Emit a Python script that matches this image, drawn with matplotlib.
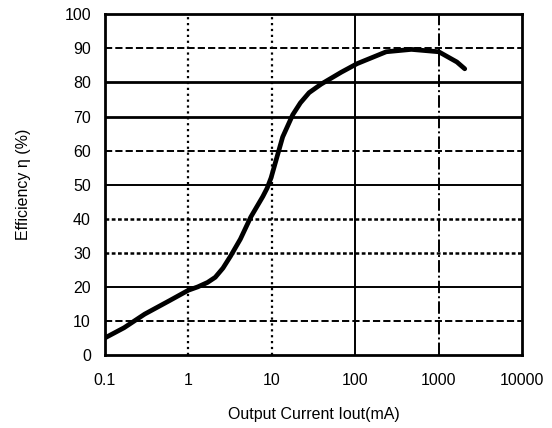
import numpy as np
import matplotlib.pyplot as plt

plt.rcParams["font.family"] = ["Liberation Sans", "DejaVu Sans"]

# efficiency curve
current_ma = [0.1, 0.17, 0.3, 0.6, 1.0, 1.3, 1.7, 2.1, 2.6, 3.2, 4.2, 5.6, 7.8, 8.8, 9.8,
              11.5, 13.5, 17.8, 22, 28, 39, 68, 105, 235, 470, 1000, 1650, 2050]
efficiency = [5, 8, 12, 16, 19, 20, 21.3, 22.8, 25.5, 29, 34, 40.5, 46.5, 49, 52,
              58, 64, 70.5, 74, 77, 79.5, 83, 85.5, 89, 89.7, 89, 86, 84]

xticks = [0.1, 1, 10, 100, 1000, 10000]
xtick_labels = ["0.1", "1", "10", "100", "1000", "10000"]
yticks = list(range(0, 101, 10))

# grid line styles as drawn in the original
hgrid = {10: ("--", 1.4), 20: ("-", 1.4), 30: ((0, (1.5, 1)), 1.8), 40: ((0, (1.5, 1)), 1.8),
         50: ("-", 1.4), 60: ("--", 1.4), 70: ("-", 2.0), 80: ("-", 2.0), 90: ("--", 1.4)}
vgrid = {1: (":", 1.6), 10: (":", 1.6), 100: ("-", 1.4), 1000: ("-.", 1.4)}

fig = plt.figure(figsize=(5.52, 4.28), dpi=100)
ax = fig.add_axes([0.190, 0.1706, 0.756, 0.796])

for y, (ls, lw) in hgrid.items():
    ax.axhline(y, color="black", lw=lw, ls=ls, zorder=1)
for x, (ls, lw) in vgrid.items():
    ax.axvline(x, color="black", lw=lw, ls=ls, zorder=1)

ax.plot(current_ma, efficiency, color="black", lw=3.4, solid_capstyle="round",
        solid_joinstyle="round", zorder=3)

ax.set_xscale("log")
ax.set_xlim(0.1, 10000)
ax.set_ylim(0, 100)
ax.set_xticks(xticks)
ax.set_xticklabels(xtick_labels)
ax.minorticks_off()
ax.set_yticks(yticks)
ax.tick_params(length=0, labelsize=11.5, pad=10)
ax.tick_params(axis="x", pad=13)
for s in ax.spines.values():
    s.set_linewidth(2)

ax.set_xlabel("Output Current Iout(mA)", fontsize=11.5, labelpad=14)
ax.set_ylabel("Efficiency η (%)", fontsize=11.5, labelpad=24)

fig.savefig("out.png", dpi=100)
